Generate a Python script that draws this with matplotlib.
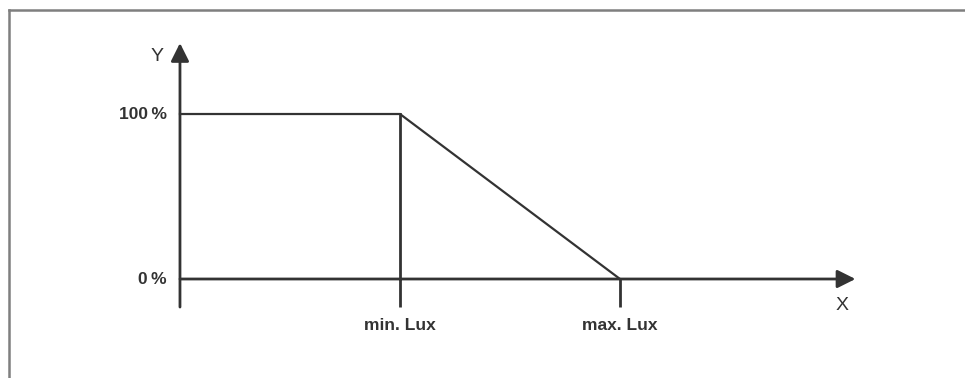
import matplotlib.pyplot as plt
from matplotlib.lines import Line2D

# characteristic curve: output level vs. light level
curve_x = [0, 1, 2]          # 0 -> start, 1 -> min. Lux, 2 -> max. Lux
curve_y = [100, 100, 0]      # output in %
x_ticks = [1, 2]
x_tick_labels = ['min. Lux', 'max. Lux']
y_ticks = [0, 100]
y_tick_labels = ['0\u2009%', '100\u2009%']

ink = '#333333'

fig = plt.figure(figsize=(9.65, 3.78), dpi=100)
ax = fig.add_axes([0, 0, 1, 1])
ax.set_xlim(-0.818, 3.568)
ax.set_ylim(-60, 169.1)
ax.axis('off')

# frame lines (top and left edge of the picture)
fig.add_artist(Line2D([8.5 / 965, 1], [1 - 9.5 / 378] * 2, transform=fig.transFigure,
                      color='#7f7f7f', lw=1.8))
fig.add_artist(Line2D([8.5 / 965] * 2, [0, 1 - 9.5 / 378], transform=fig.transFigure,
                      color='#7f7f7f', lw=1.8))

# axes with arrow heads
arrow = dict(arrowstyle='-|>,head_length=1.0,head_width=0.5', mutation_scale=11,
             lw=2, color=ink, shrinkA=0, shrinkB=0)
ax.annotate('', xy=(0, 143), xytext=(0, -17), arrowprops=arrow)
ax.annotate('', xy=(3.07, 0), xytext=(0, 0), arrowprops=arrow)
ax.text(-0.105, 135, 'Y', ha='center', va='center', fontsize=14, color=ink,
        family='Liberation Sans')
ax.text(3.01, -16, 'X', ha='center', va='center', fontsize=14, color=ink,
        family='Liberation Sans')

# tick marks below the x axis
for xt in x_ticks:
    ax.plot([xt, xt], [0, -17], color=ink, lw=2, solid_capstyle='butt')

# vertical guide at min. Lux
ax.plot([curve_x[1], curve_x[1]], [0, curve_y[1]], color=ink, lw=2)

# the curve
ax.plot(curve_x, curve_y, color=ink, lw=1.6, solid_joinstyle='miter')

for xt, lab in zip(x_ticks, x_tick_labels):
    ax.text(xt, -28, lab, ha='center', va='center', fontsize=12.5, fontweight='bold',
            color=ink, family='Liberation Sans')
for yt, lab in zip(y_ticks, y_tick_labels):
    ax.text(-0.06, yt, lab, ha='right', va='center', fontsize=12.5, fontweight='bold',
            color=ink, family='Liberation Sans')

fig.savefig('out.png', dpi=100, facecolor='white')
